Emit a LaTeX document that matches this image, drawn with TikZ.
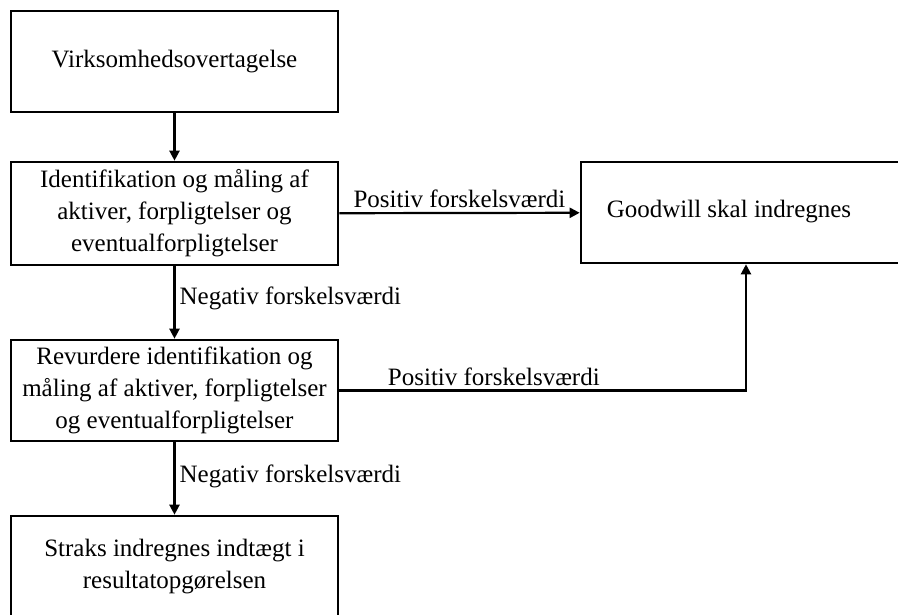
\documentclass[tikz,border=0pt]{standalone}
\usepackage{fontspec}
\setmainfont{Liberation Serif}
\usetikzlibrary{arrows.meta}
\tikzstyle{stepbox}=[rectangle, draw, line width=2.6pt, minimum width=327pt, align=center, inner sep=2pt, font=\fontsize{25}{32}\selectfont]
\tikzstyle{edgelabel}=[font=\fontsize{25}{32}\selectfont, inner sep=4pt]
\newcommand{\stepbox}{\node[stepbox]}

\begin{document}
\begin{tikzpicture}[x=1pt, y=-1pt
  ,every edge/.style={draw, line width=2.2pt, -{Triangle[length=10pt,width=10pt]}}
]
\useasboundingbox (0,0) rectangle (898,615);
\clip (0,0) rectangle (898,615);
\stepbox[minimum height=101pt] (over) at (174.5,61.5) {Virksomhedsovertagelse};
\stepbox[minimum height=103pt] (ident) at (174.5,213.5) {Identifikation og måling af\\aktiver, forpligtelser og\\eventualforpligtelser};
\stepbox[minimum height=101pt] (revurd) at (174.5,390.5) {Revurdere identifikation og\\måling af aktiver, forpligtelser\\og eventualforpligtelser};
\stepbox[minimum height=101pt] (straks) at (174.5,566.5) {Straks indregnes indtægt i\\resultatopgørelsen};
\stepbox[minimum height=101pt, minimum width=330pt] (goodwill) at (746,212.5) {};
\node[edgelabel] (gwtext) at (729,212) {Goodwill skal indregnes};
\path
(over) edge (ident)
(ident) edge node[edgelabel, right, pos=0.45] {Negativ forskelsværdi} (revurd)
(ident) edge node[edgelabel, above] {Positiv forskelsværdi} (goodwill)
(revurd) edge node[edgelabel, right, pos=0.47] {Negativ forskelsværdi} (straks)
(revurd.east) edge[to path={-| (\tikztotarget) \tikztonodes}] node[edgelabel, above, pos=0.19] {Positiv forskelsværdi} (goodwill.south)
;
\end{tikzpicture}
\end{document}
